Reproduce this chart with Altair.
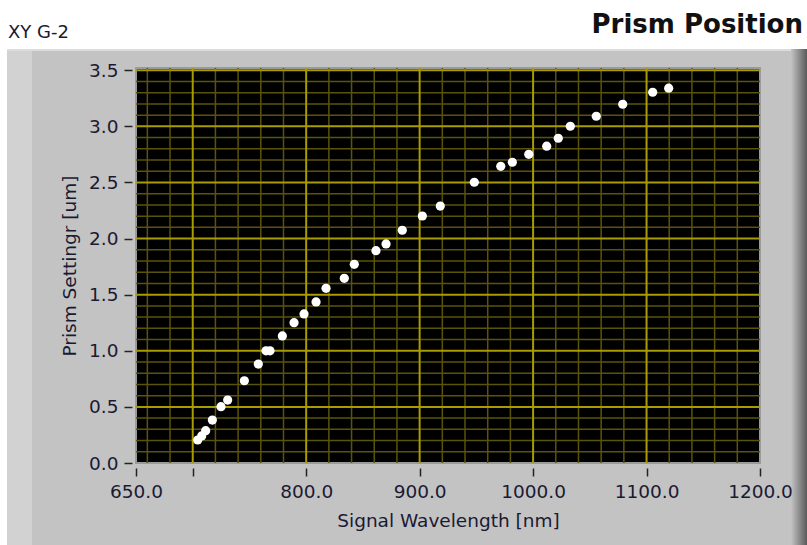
import altair as alt
import pandas as pd

# ---- data ----
wavelength = [704.4, 707.9, 711.4, 717.3, 724.9, 730.8, 745.5, 757.8, 764.6, 768.1,
              779.0, 789.3, 798.1, 808.7, 817.5, 833.6, 842.4, 861.5, 870.4, 884.7,
              902.4, 918.2, 948.2, 971.5, 981.7, 996.2, 1012.0, 1022.2, 1032.8,
              1055.7, 1079.0, 1105.4, 1119.5]
prism = [0.205, 0.241, 0.288, 0.383, 0.502, 0.561, 0.733, 0.882, 1.0, 1.0,
         1.132, 1.25, 1.328, 1.435, 1.557, 1.646, 1.771, 1.892, 1.952, 2.074,
         2.201, 2.29, 2.502, 2.644, 2.68, 2.751, 2.823, 2.894, 3.001,
         3.09, 3.197, 3.304, 3.34]

x_ticks = [650, 700, 800, 900, 1000, 1100, 1200]
y_ticks = [0.0, 0.5, 1.0, 1.5, 2.0, 2.5, 3.0, 3.5]
x_major_grid = [700, 800, 900, 1000, 1100]
x_minor_grid = [660, 680, 720, 740, 760, 780, 820, 840, 860, 880, 920, 940, 960, 980,
                1020, 1040, 1060, 1080, 1120, 1140, 1160, 1180]
y_major_grid = [0.5, 1.0, 1.5, 2.0, 2.5, 3.0, 3.5]
y_minor_grid = [0.1, 0.2, 0.3, 0.4, 0.6, 0.7, 0.8, 0.9, 1.1, 1.2, 1.3, 1.4,
                1.6, 1.7, 1.8, 1.9, 2.1, 2.2, 2.3, 2.4, 2.6, 2.7, 2.8, 2.9,
                3.1, 3.2, 3.3, 3.4]

W, H = 624, 395
FONT = "DejaVu Sans"
TXT = "#1a1a33"

df = pd.DataFrame({"wavelength": wavelength, "prism": prism})
xscale = alt.Scale(domain=[650, 1200], nice=False, zero=False)
yscale = alt.Scale(domain=[0, 3.52], nice=False, zero=False)
one = alt.Data(values=[{}])

axis_common = dict(domain=False, grid=False, ticks=True, tickSize=8, tickWidth=1.5,
                   tickColor="#222222", labelFont=FONT, labelFontSize=18.5, labelColor=TXT,
                   labelFlush=False, labelOverlap=False,
                   titleFont=FONT, titleFontSize=18.5, titleFontWeight="normal",
                   titleColor=TXT, zindex=1)
xaxis = alt.Axis(values=x_ticks, title="Signal Wavelength [nm]",
                 labelExpr="datum.value == 700 ? '' : format(datum.value, '.1f')",
                 offset=5, labelPadding=6, titlePadding=11, **axis_common)
yaxis = alt.Axis(values=y_ticks, title="Prism Settingr [um]", format=".1f",
                 offset=4, labelPadding=6, titlePadding=9, **axis_common)

# ---- decoration: grey panel, plot background ----
panel = alt.Chart(one).mark_rect(color="#c3c3c3").encode(
    x=alt.value(-129), x2=alt.value(669), y=alt.value(-19), y2=alt.value(477))
panel_top = alt.Chart(one).mark_rect(color="#dcdcdc").encode(
    x=alt.value(-129), x2=alt.value(669), y=alt.value(-19), y2=alt.value(-17))
panel_left = alt.Chart(one).mark_rect(color="#d2d2d2").encode(
    x=alt.value(-129), x2=alt.value(-104), y=alt.value(-17), y2=alt.value(477))
panel_right = alt.Chart(one).mark_rect(
    color=alt.Gradient(gradient="linear", x1=0, x2=1, y1=0, y2=0,
                       stops=[alt.GradientStop(offset=0, color="#c3c3c3"),
                              alt.GradientStop(offset=1, color="#5a5a5a")])
).encode(x=alt.value(655), x2=alt.value(671), y=alt.value(-19), y2=alt.value(477))

plotbg = alt.Chart(one).mark_rect(color="black", stroke="#9a9a9a", strokeWidth=2).encode(
    x=alt.value(0), x2=alt.value(W), y=alt.value(0), y2=alt.value(H))

MINOR = "#5a540a"
MAJOR = "#a89c00"
xminor = alt.Chart(pd.DataFrame({"wavelength": x_minor_grid})).mark_rule(color=MINOR, strokeWidth=1.5).encode(
    x=alt.X("wavelength:Q", scale=xscale, axis=xaxis))
yminor = alt.Chart(pd.DataFrame({"prism": y_minor_grid})).mark_rule(color=MINOR, strokeWidth=1.5).encode(
    y=alt.Y("prism:Q", scale=yscale, axis=yaxis))
xmajor = alt.Chart(pd.DataFrame({"wavelength": x_major_grid})).mark_rule(color=MAJOR, strokeWidth=2).encode(
    x=alt.X("wavelength:Q", scale=xscale, axis=xaxis))
ymajor = alt.Chart(pd.DataFrame({"prism": y_major_grid})).mark_rule(color=MAJOR, strokeWidth=2).encode(
    y=alt.Y("prism:Q", scale=yscale, axis=yaxis))

points = alt.Chart(df).mark_circle(size=85, color="white", opacity=1).encode(
    x=alt.X("wavelength:Q", scale=xscale, axis=xaxis),
    y=alt.Y("prism:Q", scale=yscale, axis=yaxis),
)

title_left = alt.Chart(one).mark_text(text="XY G-2", font=FONT, fontSize=18, color=TXT,
                                      align="left", baseline="middle").encode(
    x=alt.value(-128), y=alt.value(-35))
title_right = alt.Chart(one).mark_text(text="Prism Position", font=FONT, fontSize=26,
                                       fontWeight="bold", color="#111111",
                                       align="right", baseline="alphabetic").encode(
    x=alt.value(667), y=alt.value(-35))

chart = alt.layer(panel, panel_top, panel_left, panel_right, plotbg,
                  xminor, yminor, xmajor, ymajor, points, title_left, title_right
).properties(
    width=W, height=H,
    autosize=alt.AutoSizeParams(type="none"),
    padding={"left": 136, "top": 68, "right": 47, "bottom": 82},
    background="white",
).configure_view(strokeWidth=0)

chart.save("out.html", embed_options={"renderer": "svg", "actions": False})
